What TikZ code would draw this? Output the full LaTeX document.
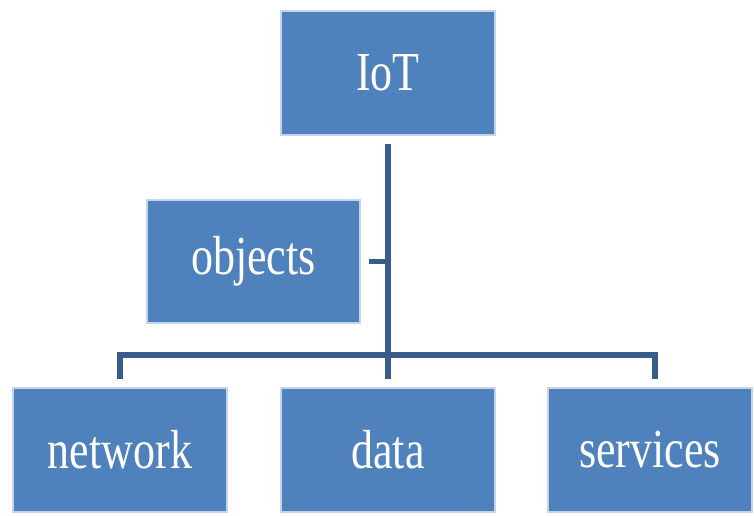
\documentclass[tikz,border=0pt]{standalone}
\usepackage{fontspec}
\setmainfont{Liberation Serif}
\usepackage{graphicx}
\definecolor{boxfill}{HTML}{4F81BD}
\definecolor{boxedge}{HTML}{C5D4E8}
\definecolor{linecol}{HTML}{385D8A}
\begin{document}
\begin{tikzpicture}[x=1pt,y=1pt,
 box/.style={draw=boxedge, line width=1.5pt, fill=boxfill, minimum width=214pt, minimum height=124pt, inner sep=0pt, outer sep=9pt, text=white, font=\fontsize{44}{44}\selectfont},
 conn/.style={draw=linecol, line width=5.5pt, line join=miter}]
\useasboundingbox (0,0) rectangle (754,516);
\node[box] (iot) at (388,443) {\scalebox{1}[1.25]{IoT}};
\node[box, minimum width=213pt, minimum height=123pt] (objects) at (253.5,254.5) {\scalebox{1}[1.25]{objects}};
\node[box] (network) at (120,66) {\scalebox{1}[1.25]{network}};
\node[box] (data) at (388,66) {\scalebox{1}[1.25]{data}};
\node[box, minimum width=204pt] (services) at (650,66) {\scalebox{1}[1.25]{services}};
\coordinate (j) at (388,161);
\coordinate (sdrop) at ([xshift=5pt]services.north);
\draw[conn] (iot.south) -- (data.north);
\draw[conn] (network.north) -- (network.north |- j) -- (sdrop |- j) -- (sdrop);
\draw[conn] (objects.east) -- (objects.east -| iot.south);
\end{tikzpicture}
\end{document}
